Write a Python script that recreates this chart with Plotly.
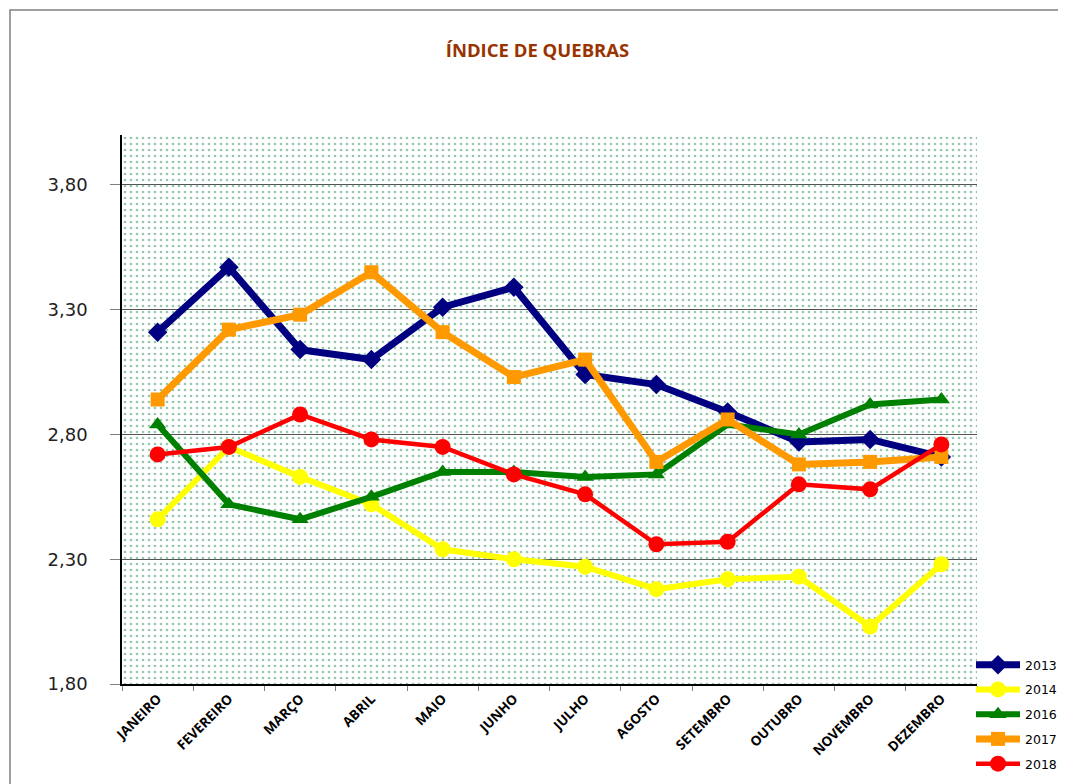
import plotly.graph_objects as go

months = ["JANEIRO", "FEVEREIRO", "MARÇO", "ABRIL", "MAIO", "JUNHO", "JULHO",
          "AGOSTO", "SETEMBRO", "OUTUBRO", "NOVEMBRO", "DEZEMBRO"]

v2013 = [3.21, 3.47, 3.14, 3.10, 3.31, 3.39, 3.04, 3.00, 2.89, 2.77, 2.78, 2.71]
v2014 = [2.46, 2.75, 2.63, 2.52, 2.34, 2.30, 2.27, 2.18, 2.22, 2.23, 2.03, 2.28]
v2016 = [2.84, 2.52, 2.46, 2.55, 2.65, 2.65, 2.63, 2.64, 2.84, 2.80, 2.92, 2.94]
v2017 = [2.94, 3.22, 3.28, 3.45, 3.21, 3.03, 3.10, 2.69, 2.86, 2.68, 2.69, 2.71]
v2018 = [2.72, 2.75, 2.88, 2.78, 2.75, 2.64, 2.56, 2.36, 2.37, 2.60, 2.58, 2.76]

y_min, y_max = 1.8, 4.0

series = [
    ("2013", v2013, "#000080", "diamond", 7, 15),
    ("2014", v2014, "#FFFF00", "circle", 6, 16),
    ("2016", v2016, "#008000", "triangle-up", 6, 15),
    ("2017", v2017, "#FF9900", "square", 7, 14),
    ("2018", v2018, "#FF0000", "circle", 4.5, 16),
]

# page has an 8px body margin: figure coordinates = reference pixels - 8
W, H = 1058, 776
L, T, R, B = 114, 127, 969, 676  # plot area edges in figure coords

fig = go.Figure()

# dotted plot-area background
fig.add_trace(go.Bar(
    x=months, y=[y_max - y_min] * len(months), base=[y_min] * len(months),
    width=1.0, showlegend=False, hoverinfo="skip",
    marker=dict(color="rgba(0,0,0,0)", line=dict(width=0),
                pattern=dict(shape=".", size=6, solidity=0.16,
                             fgcolor="#2A9058", bgcolor="rgba(0,0,0,0)",
                             fillmode="overlay")),
))

for name, vals, color, sym, lw, ms in series:
    fig.add_trace(go.Scatter(
        x=months, y=vals, name=name, legendgroup=name, mode="lines+markers",
        line=dict(color=color, width=lw),
        marker=dict(symbol=sym, size=ms, color=color),
    ))

pw, ph = R - L, B - T
fig.update_layout(
    width=W, height=H,
    margin=dict(l=L, r=W - R, t=T, b=H - B, autoexpand=False),
    paper_bgcolor="white", plot_bgcolor="white",
    separators=",.",
    bargap=0,
    title=dict(text="<b>ÍNDICE DE QUEBRAS</b>", x=529.5 / W, xanchor="center",
               xref="container",
               y=1 - 43 / H, yanchor="middle",
               font=dict(family="Open Sans", size=18.5, color="#993300")),
    legend=dict(xref="container", yref="container",
                x=963 / W, xanchor="left", y=1 - 642 / H, yanchor="top",
                font=dict(family="DejaVu Sans", size=12.5, color="#000"),
                traceorder="grouped", tracegroupgap=5.5, itemwidth=44,
                bgcolor="rgba(0,0,0,0)"),
    showlegend=True,
    shapes=[dict(type="rect", xref="paper", yref="paper",
                 x0=(2 - L) / pw, x1=(W + 20 - L) / pw,
                 y0=(B - H - 20) / ph, y1=(B - 2) / ph,
                 line=dict(color="#808080", width=1.5), fillcolor="rgba(0,0,0,0)",
                 layer="below")],
)

fig.update_xaxes(
    type="category", tickson="boundaries", ticks="outside", ticklen=5,
    tickcolor="#808080", tickangle=-45,
    tickfont=dict(family="Open Sans", size=13.5, color="#000", weight="bold"),
    showline=True, linecolor="#000", linewidth=1.5, showgrid=False,
    range=[-0.5, 11.5], automargin=False,
)
fig.update_yaxes(
    range=[y_min, y_max], tickvals=[1.8, 2.3, 2.8, 3.3, 3.8], tickformat=".2f",
    ticks="outside", ticklen=10, tickcolor="#808080", ticklabelstandoff=19,
    tickfont=dict(family="DejaVu Sans", size=18, color="#222"),
    showline=True, linecolor="#000", linewidth=1.5, automargin=False,
    showgrid=True, gridcolor="#555", gridwidth=1, zeroline=False,
)

fig.write_html("out.html")
